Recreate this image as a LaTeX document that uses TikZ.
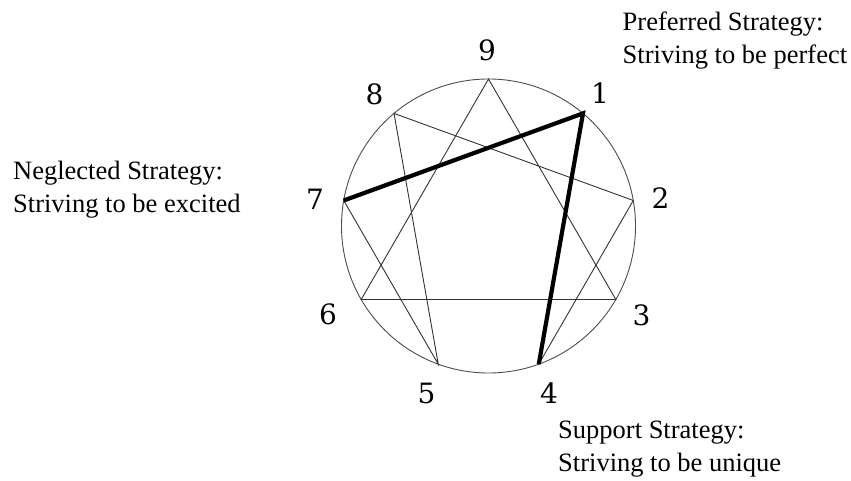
\documentclass[tikz,border=0pt]{standalone}
\usepackage{fontspec}
\usetikzlibrary{calc}
\setmainfont{Liberation Serif}
\newfontfamily\digitfont{DejaVu Serif}
\begin{document}
\begin{tikzpicture}[x=1pt,y=-1pt,
  thinline/.style={draw=black!80,line width=0.9pt},
  thickline/.style={draw=black,line width=4.2pt},
  numlabel/.style={font=\digitfont\fontsize{28}{30}\selectfont,inner sep=0pt},
  strattext/.style={font=\fontsize{26.5}{33}\selectfont,align=left,inner sep=0pt,anchor=base west}]
\useasboundingbox (0,0) rectangle (851,481);
\coordinate (c) at (488.5,226);
\node[draw=black!70,line width=0.9pt,circle,minimum size=294pt,inner sep=0pt] (circ) at (c) {};
\foreach \k in {1,...,9} {
  \coordinate (p\k) at ($(c)+({90-40*\k}:147 and -147)$);
}
\draw[thinline] (p9) -- (p3) -- (p6) -- cycle;
\draw[thinline] (p4) -- (p2) -- (p8) -- (p5) -- (p7);
\draw[thickline,line join=miter,line cap=butt] (p7) -- (p1) -- (p4);
\node[numlabel] (l9) at (487,50) {9};
\node[numlabel] (l1) at (600,93.5) {1};
\node[numlabel] (l2) at (660.5,198) {2};
\node[numlabel] (l3) at (641.5,315.5) {3};
\node[numlabel] (l4) at (549,393.5) {4};
\node[numlabel] (l5) at (426.5,393.5) {5};
\node[numlabel] (l6) at (328,314) {6};
\node[numlabel] (l7) at (315,199.5) {7};
\node[numlabel] (l8) at (374.5,94) {8};
\node[strattext] (pref) at (622.5,64) {Preferred Strategy:\\Striving to be perfect};
\node[strattext] (negl) at (13,213) {Neglected Strategy:\\Striving to be excited};
\node[strattext] (supp) at (558,471) {Support Strategy:\\Striving to be unique};
\end{tikzpicture}
\end{document}
